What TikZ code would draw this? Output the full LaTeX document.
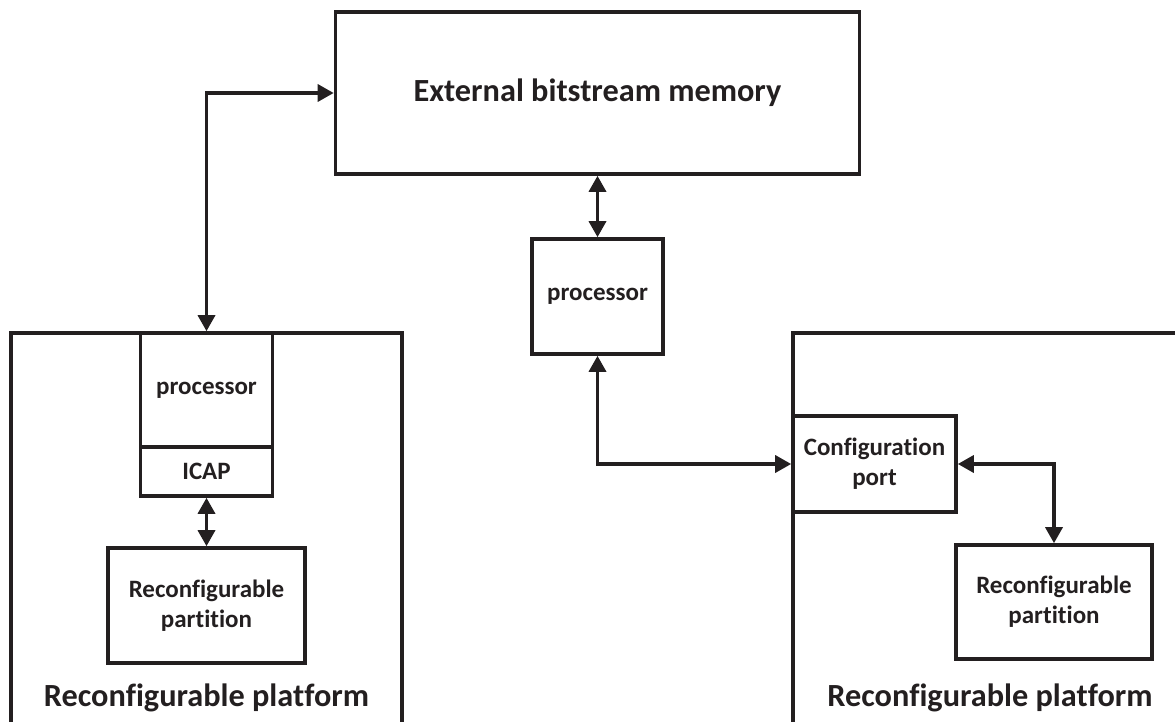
\documentclass[tikz,border=0pt]{standalone}
\usepackage{fontspec}
\setmainfont{Carlito}[Ligatures=NoCommon]
\usetikzlibrary{arrows.meta}
\definecolor{ink}{RGB}{35,31,32}
\begin{document}
\begin{tikzpicture}[x=1pt, y=-1pt, line width=3.6pt, ink,
  box/.style={draw, rectangle, inner sep=0pt, align=center, text=ink, font=\fontsize{25}{30}\selectfont\bfseries},
  big/.style={text=ink, font=\fontsize{32.3}{38}\selectfont\bfseries},
  link/.style={{Triangle[length=16pt,width=17pt]}-{Triangle[length=16pt,width=17pt]}, line width=3.4pt}]
\useasboundingbox (0,0) rectangle (1175,722);
\clip (0,0) rectangle (1175,722);
\draw (11,760) |- (402,333) -- (402,760);
\draw (793,760) |- (1200,333);
\node[box, big, minimum width=524pt, minimum height=162pt] (mem) at (597.5,93) {External bitstream memory};
\node[box, minimum width=132pt, minimum height=114pt] (proc0) at (206.5,390) {processor};
\node[box, minimum width=132pt, minimum height=49pt] (icap0) at (206.5,471.5) {ICAP};
\node[box, minimum width=197pt, minimum height=115pt] (part0) at (206.5,605.5) {Reconfigurable\\partition};
\node[big, anchor=base] (plat0) at (206.5,706) {Reconfigurable platform};
\node[box, minimum width=131pt, minimum height=115pt] (proc1) at (597.5,296.5) {processor};
\node[box, minimum width=163pt, minimum height=96pt] (port1) at (874.5,464) {Configuration\\port};
\node[box, minimum width=196pt, minimum height=114pt] (part1) at (1054,602) {Reconfigurable\\partition};
\node[big, anchor=base] (plat1) at (990,706) {Reconfigurable platform};
\draw[link] (proc0.north) |- (mem.west);
\draw[link] (icap0.south) -- (part0.north);
\draw[link] (mem.south) -- (proc1.north);
\draw[link] (proc1.south) |- (port1.west);
\draw[link] (port1.east) -| (part1.north);
\end{tikzpicture}
\end{document}
